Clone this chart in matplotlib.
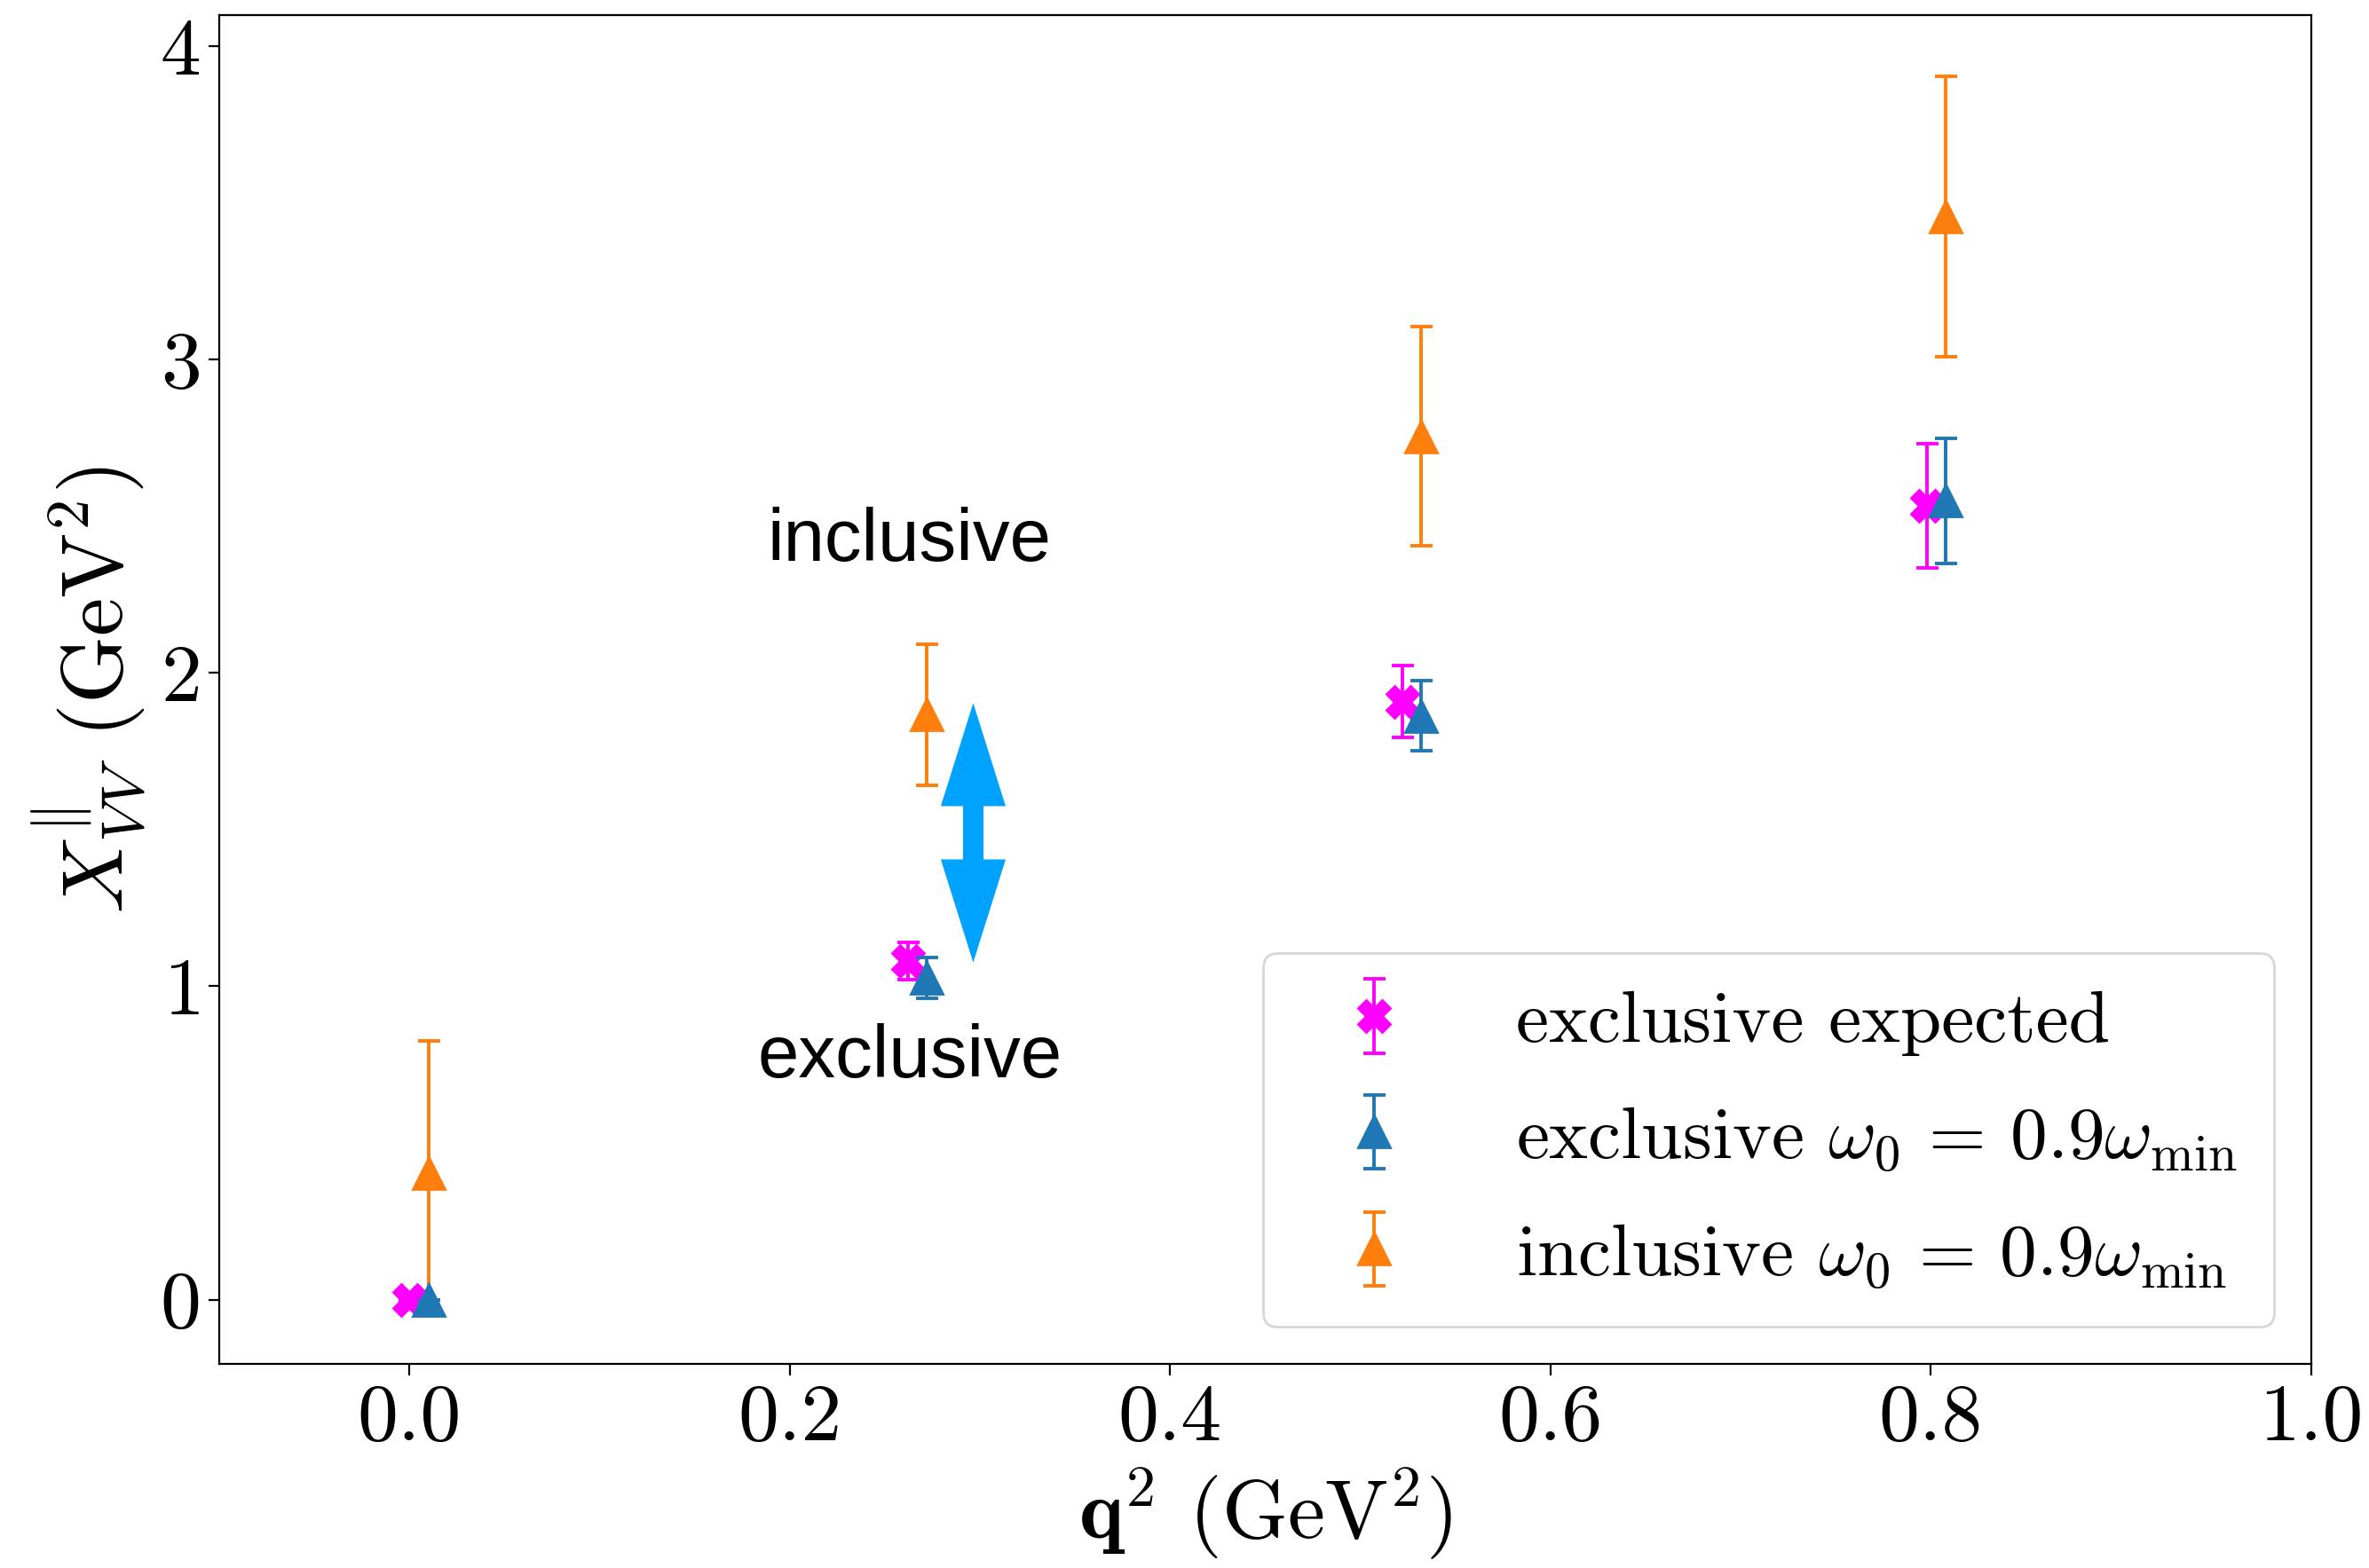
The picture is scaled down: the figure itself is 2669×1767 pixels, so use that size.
import numpy as np
import matplotlib
matplotlib.use("Agg")
import matplotlib.pyplot as plt

plt.rcParams["font.family"] = "serif"
plt.rcParams["font.serif"] = ["cmr10"]
plt.rcParams["mathtext.fontset"] = "cm"
plt.rcParams["axes.formatter.use_mathtext"] = True
plt.rcParams["axes.unicode_minus"] = False

# q^2 values (GeV^2); the omega_0 = 0.9 omega_min points are shifted by 0.01 for visibility
q2 = np.array([0.0, 0.262, 0.522, 0.798])
shift = 0.01

excl_expected = np.array([0.0, 1.08, 1.908, 2.534])
excl_expected_err = np.array([0.0, 0.06, 0.115, 0.198])

excl_w0 = np.array([0.0, 1.028, 1.863, 2.55])
excl_w0_err = np.array([0.0, 0.065, 0.112, 0.2])

incl_w0 = np.array([0.405, 1.867, 2.755, 3.457])
incl_w0_err = np.array([0.42, 0.225, 0.35, 0.447])

fig = plt.figure(figsize=(13.345, 8.835), dpi=200)
ax = fig.add_axes([0.0925, 0.1302, 0.8831, 0.8602])

ms = 13
cs = 4.5
lw = 1.4

ax.errorbar(q2, excl_expected, yerr=excl_expected_err, fmt="X", color="magenta",
            markersize=ms, capsize=cs, elinewidth=lw, capthick=lw,
            label="exclusive expected", zorder=2)
ax.errorbar(q2 + shift, excl_w0, yerr=excl_w0_err, fmt="^", color="tab:blue",
            markersize=ms, capsize=cs, elinewidth=lw, capthick=lw,
            label=r"exclusive $\omega_0\,=\,0.9\omega_{\mathrm{min}}$", zorder=4)
ax.errorbar(q2 + shift, incl_w0, yerr=incl_w0_err, fmt="^", color="tab:orange",
            markersize=ms, capsize=cs, elinewidth=lw, capthick=lw,
            label=r"inclusive $\omega_0\,=\,0.9\omega_{\mathrm{min}}$", zorder=3)

# double-headed arrow between the inclusive and exclusive points:
# two overlapping single-headed arrows, each starting at the other's head base
arrow_x = 0.2965
arrow_lo, arrow_hi = 1.076, 1.904
head_len = 0.329
arrow_kw = dict(width=0.0107, head_width=0.0341, head_length=head_len,
                length_includes_head=True, color="#00a2ff", linewidth=0, zorder=5)
ax.arrow(arrow_x, arrow_lo + head_len, 0, arrow_hi - arrow_lo - head_len, **arrow_kw)
ax.arrow(arrow_x, arrow_hi - head_len, 0, arrow_lo - arrow_hi + head_len, **arrow_kw)

ax.text(0.263, 2.357, "inclusive", family="Liberation Sans", fontsize=30,
        ha="center", va="baseline")
ax.text(0.263, 0.711, "exclusive", family="Liberation Sans", fontsize=30,
        ha="center", va="baseline")

ax.set_xlim(-0.1, 1.0)
ax.set_ylim(-0.205, 4.10)
ax.set_xticks([0.0, 0.2, 0.4, 0.6, 0.8, 1.0])
ax.set_yticks([0, 1, 2, 3, 4])
ax.xaxis.set_major_formatter(plt.FormatStrFormatter("%.1f"))
ax.tick_params(labelsize=33, length=4.5, width=0.8)

ax.set_xlabel(r"$\mathbf{q}^2$ (GeV$^2$)", fontsize=34, labelpad=4)
ax.set_ylabel(r"$X_{VV}^{\Vert}$ (GeV$^2$)", fontsize=35)

ax.legend(loc="lower right", fontsize=30, labelspacing=0.66, handletextpad=0.92,
          borderpad=0.5)

fig.savefig("out.png", dpi=200)
